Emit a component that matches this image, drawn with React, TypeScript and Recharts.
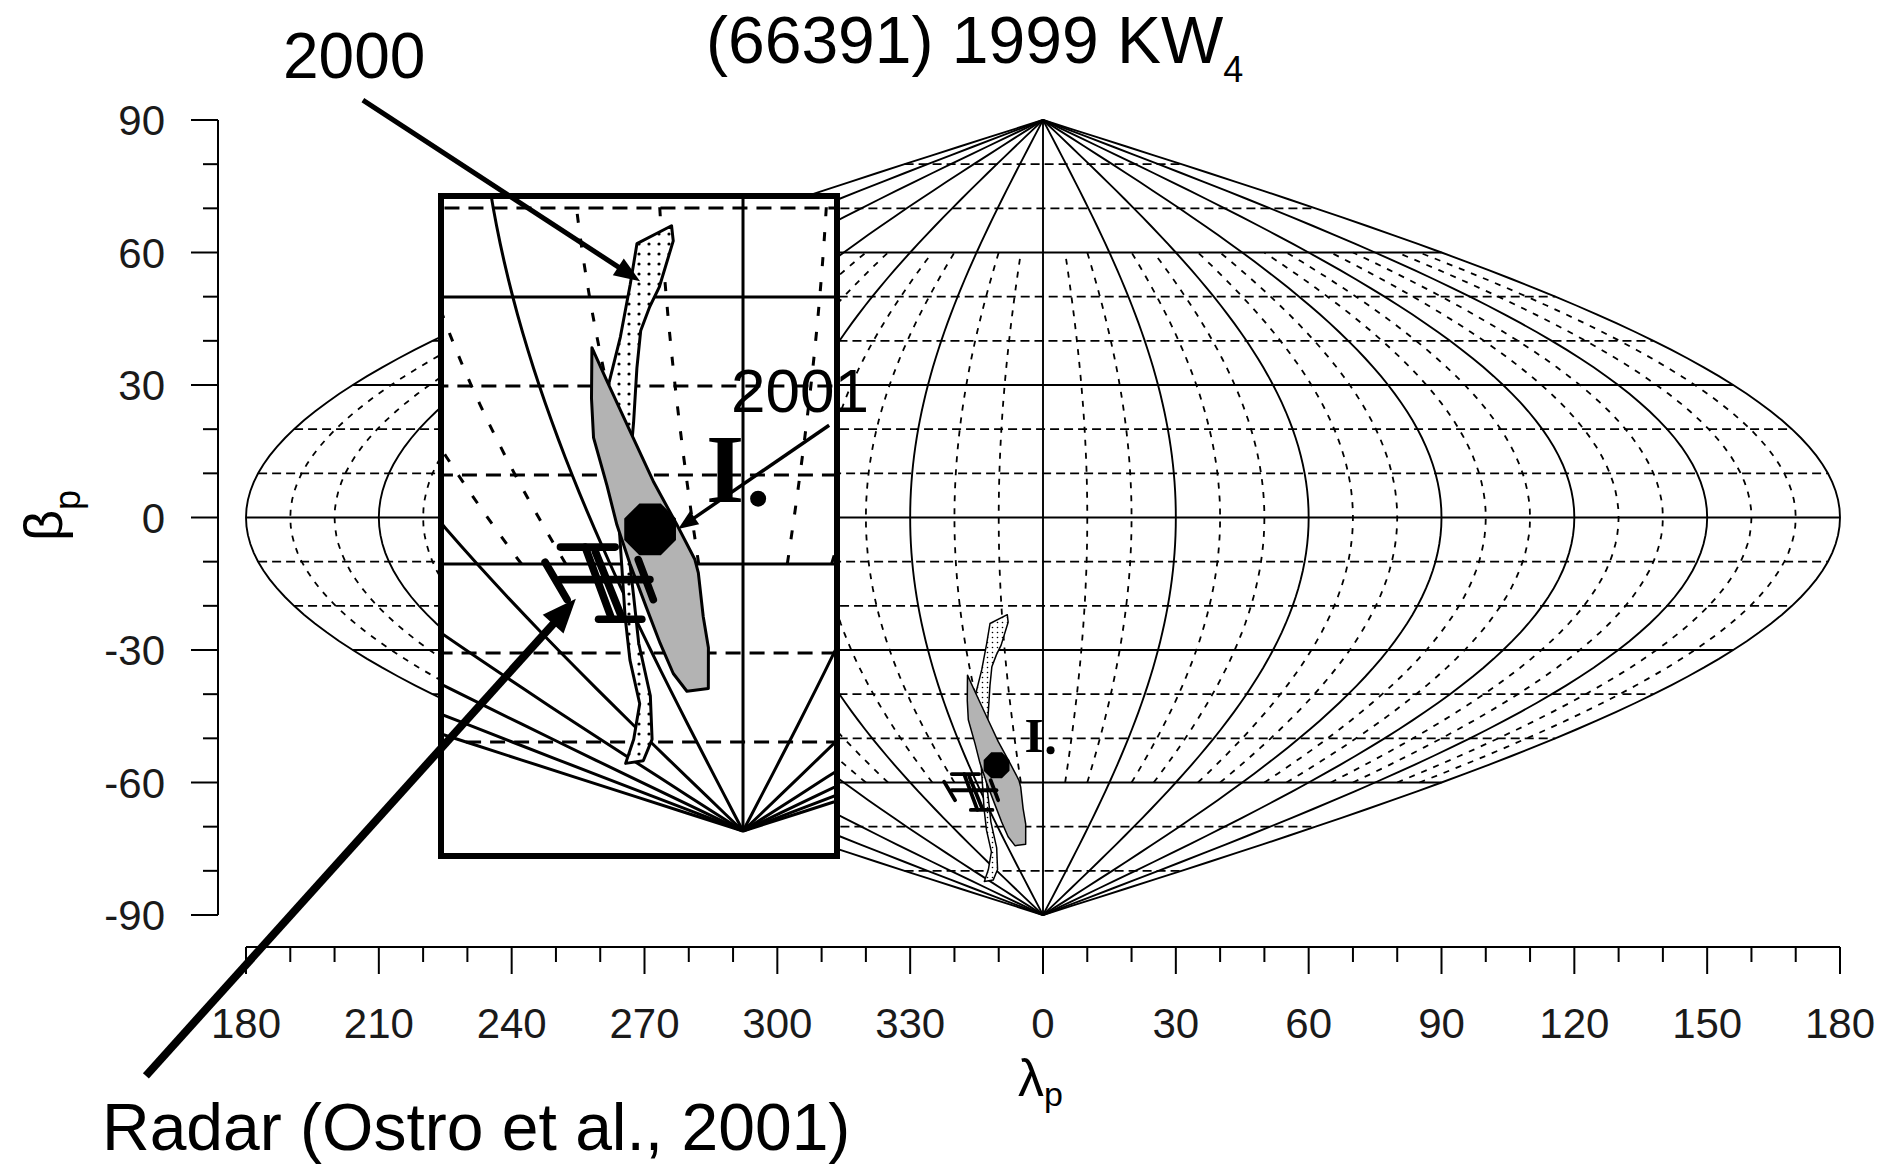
import React from 'react';
import { ScatterChart, Scatter, XAxis, YAxis } from 'recharts';

const FONT = '"Liberation Sans", Arial, Helvetica, sans-serif';
const SERIF = '"Liberation Serif", "Times New Roman", serif';

// axis ticks (degrees)
const lonTicks = [-180, -170, -160, -150, -140, -130, -120, -110, -100, -90, -80, -70, -60, -50, -40, -30, -20, -10, 0,
  10, 20, 30, 40, 50, 60, 70, 80, 90, 100, 110, 120, 130, 140, 150, 160, 170, 180];
const latTicks = [-90, -80, -70, -60, -50, -40, -30, -20, -10, 0, 10, 20, 30, 40, 50, 60, 70, 80, 90];

// graticule of the sinusoidal map
const meridianLons = lonTicks;
const parallelLats = [-80, -70, -60, -50, -40, -30, -20, -10, 0, 10, 20, 30, 40, 50, 60, 70, 80];
const minorMeridianLimit = 60; // dashed meridians stop at +-60

// 2000 solution region (dotted), pole longitude / latitude
const region2000Lon = [351.3, 351.4, 349.2, 347.7, 346.1, 344.8, 342.8, 339.3, 335.2, 332.3, 327.3, 320.1, 302.6,
  278.1, 259.8, 291.0, 312.8, 321.2, 327.4, 332.6, 337.2, 340.2, 343.2, 345.5, 346.9];
const region2000Lat = [-22.0, -23.7, -28.9, -31.1, -33.8, -38.0, -44.1, -51.2, -58.6, -63.5, -68.9, -74.8, -79.7,
  -82.1, -82.4, -79.7, -75.7, -70.8, -65.9, -60.0, -51.2, -39.9, -34.5, -28.6, -24.0];

// 2001 solution region (grey)
const region2001Lon = [339.0, 340.1, 342.2, 344.0, 346.8, 349.3, 349.6, 349.0, 348.9, 345.8, 336.6, 334.1, 334.0,
  334.3, 334.5, 334.8, 335.5, 335.8, 337.2];
const region2001Lat = [-35.7, -39.4, -45.8, -50.7, -55.6, -59.5, -61.0, -65.9, -69.4, -74.0, -74.3, -72.3, -68.9,
  -64.9, -60.0, -55.6, -51.2, -45.8, -41.4];

// radar pole (Ostro et al., 2001) error bars
const radarStartLon = [321.0, 316.4, 319.6, 326.3, 328.0, 315.6, 336.7];
const radarStartLat = [-58.1, -61.75, -66.2, -58.1, -58.6, -59.8, -59.5];
const radarEndLon = [332.7, 337.8, 331.7, 323.3, 326.4, 314.7, 336.9];
const radarEndLat = [-58.1, -61.75, -66.2, -66.2, -65.9, -64.0, -64.0];

// best 2001 pole (black octagon) and the "I." marker
const bestPoleLon = [341.2];
const bestPoleLat = [-56.1];
const markerLon = [356.9];
const markerLat = [-49.4];

// annotation arrows, in the units of the page overlay (same frame as the main map)
const arrowFromX = [-153.6, -48.3, -202.6];
const arrowFromY = [94.5, 20.9, -126.4];
const arrowToX = [-91.0, -82.4, -105.5];
const arrowToY = [53.5, -2.6, -18.4];

type P = { x: number; y: number };
const rad = (d: number) => (d * Math.PI) / 180;
const project = (lon: number, lat: number): P => {
  const l = lon > 180 ? lon - 360 : lon;
  return { x: l * Math.cos(rad(lat)), y: lat };
};
const sampleLats: number[] = [];
for (let b = -90; b <= 90; b += 2) sampleLats.push(b);

const Empty = () => <g />;
const pathOf = (pts: P[], close = false) =>
  pts.map((p, i) => `${i ? 'L' : 'M'}${p.x.toFixed(2)},${p.y.toFixed(2)}`).join('') + (close ? 'Z' : '');

function series(key: string, data: P[], draw: (pts: P[]) => React.ReactElement) {
  return (
    <Scatter key={key} data={data} isAnimationActive={false} shape={Empty as any} line={((lp: any) => draw(lp.points)) as any} />
  );
}

function gridLayers(z: number, pre: string) {
  const sw = z === 1 ? 1.9 : 3;
  const dw = z === 1 ? 1.8 : 3;
  const parDash = z === 1 ? '9 5' : '15 9';
  const merDash = z === 1 ? '6 7' : '9 16';
  const els: React.ReactElement[] = [];
  parallelLats.forEach((lat) => {
    const h = 180 * Math.cos(rad(lat));
    const solid = lat % 30 === 0;
    els.push(series(`${pre}p${lat}`, [{ x: -h, y: lat }, { x: h, y: lat }], (pts) => (
      <path d={pathOf(pts)} fill="none" stroke="#000" strokeWidth={solid ? sw : dw} strokeDasharray={solid ? undefined : parDash} />
    )));
  });
  meridianLons.forEach((lon) => {
    const solid = lon % 30 === 0;
    const lats = solid ? sampleLats : sampleLats.filter((b) => Math.abs(b) <= minorMeridianLimit);
    const data = lats.map((b) => ({ x: lon * Math.cos(rad(b)), y: b }));
    els.push(series(`${pre}m${lon}`, data, (pts) => (
      <path d={pathOf(pts)} fill="none" stroke="#000" strokeWidth={solid ? sw : dw} strokeDasharray={solid ? undefined : merDash} />
    )));
  });
  return els;
}

function solutionLayers(z: number, pre: string) {
  const els: React.ReactElement[] = [];
  const pid = `dots${pre}`;
  const d2000 = region2000Lon.map((l, i) => project(l, region2000Lat[i]));
  const d2001 = region2001Lon.map((l, i) => project(l, region2001Lat[i]));
  els.push(series(`${pre}r2000`, d2000, (pts) => (
    <g>
      <defs>
        <pattern id={pid} width={5 * z} height={5 * z} patternUnits="userSpaceOnUse">
          <rect width={5 * z} height={5 * z} fill="#fff" />
          <circle cx={2.5 * z} cy={2.5 * z} r={0.8 * z} fill="#000" />
        </pattern>
      </defs>
      <path d={pathOf(pts, true)} fill={`url(#${pid})`} stroke="#000" strokeWidth={1.5 * z} strokeLinejoin="round" />
    </g>
  )));
  els.push(series(`${pre}r2001`, d2001, (pts) => (
    <path d={pathOf(pts, true)} fill="#b3b3b3" stroke="#000" strokeWidth={1.5 * z} strokeLinejoin="round" />
  )));
  radarStartLon.forEach((l, i) => {
    const data = [project(l, radarStartLat[i]), project(radarEndLon[i], radarEndLat[i])];
    els.push(series(`${pre}rad${i}`, data, (pts) => (
      <path d={pathOf(pts)} fill="none" stroke="#000" strokeWidth={3.8 * z} strokeLinecap="round" />
    )));
  });
  const best = bestPoleLon.map((l, i) => project(l, bestPoleLat[i]));
  els.push(
    <Scatter key={`${pre}best`} data={best} isAnimationActive={false}
      shape={((sp: any) => {
        const r = 14 * z;
        const pts = [0, 1, 2, 3, 4, 5, 6, 7].map((k) => {
          const a = rad(22.5 + 45 * k);
          return `${(sp.cx + r * Math.cos(a)).toFixed(2)},${(sp.cy + r * Math.sin(a)).toFixed(2)}`;
        });
        return <polygon points={pts.join(' ')} fill="#000" />;
      }) as any}
    />
  );
  const mark = markerLon.map((l, i) => project(l, markerLat[i]));
  els.push(
    <Scatter key={`${pre}mark`} data={mark} isAnimationActive={false}
      shape={((sp: any) => (
        <g>
          <text x={sp.cx} y={sp.cy + 16 * z} textAnchor="middle" fontFamily={SERIF} fontWeight="bold" fontSize={49 * z} fill="#000">I</text>
          <circle cx={sp.cx + 16.5 * z} cy={sp.cy + 14.5 * z} r={4 * z} fill="#000" />
        </g>
      )) as any}
    />
  );
  return els;
}

const XTick = (props: any) => {
  const { x, y, payload } = props;
  const v = payload.value as number;
  const major = v % 30 === 0;
  return (
    <g>
      <line x1={x} y1={y} x2={x} y2={y + (major ? 27 : 15)} stroke="#000" strokeWidth={2} />
      {major && (
        <text x={x} y={y + 91} textAnchor="middle" fontFamily={FONT} fontSize={42} fill="#1a1a1a">
          {v < 0 ? v + 360 : v}
        </text>
      )}
    </g>
  );
};

const YTick = (props: any) => {
  const { x, y, payload } = props;
  const v = payload.value as number;
  const major = v % 30 === 0;
  return (
    <g>
      <line x1={x - (major ? 27 : 15)} y1={y} x2={x} y2={y} stroke="#000" strokeWidth={2} />
      {major && (
        <text x={x - 53} y={y + 15} textAnchor="end" fontFamily={FONT} fontSize={42} fill="#1a1a1a">
          {v}
        </text>
      )}
    </g>
  );
};

function MainMap() {
  return (
    <ScatterChart width={1897} height={1165} margin={{ top: 120, right: 57, bottom: 250, left: 98 }}>
      <XAxis type="number" dataKey="x" domain={[-180, 180]} hide />
      <YAxis type="number" dataKey="y" domain={[-90, 90]} width={28} axisLine={false} tickLine={false} tick={false} />
      <YAxis yAxisId="v" type="number" domain={[-90, 90]} allowDataOverflow ticks={latTicks} interval={0} width={120}
        tickSize={0} tickMargin={0} tickLine={false} axisLine={{ stroke: '#000', strokeWidth: 2 }} tick={<YTick />} />
      {gridLayers(1, 'a')}
      {solutionLayers(1, 'a')}
    </ScatterChart>
  );
}

// longitude axis: its own chart so that it can sit 32px below the map
function LonAxis() {
  return (
    <ScatterChart width={1897} height={1165} margin={{ top: 0, right: 57, bottom: 118, left: 246 }}>
      <XAxis type="number" dataKey="x" domain={[-180, 180]} allowDataOverflow ticks={lonTicks} interval={0} height={100}
        tickSize={0} tickMargin={0} tickLine={false} axisLine={{ stroke: '#000', strokeWidth: 2 }}
        tick={(p: any) => <XTick {...p} />} />
      <YAxis type="number" dataKey="y" domain={[0, 1]} allowDataOverflow hide />
      <Scatter data={[{ x: 0, y: 0 }]} isAnimationActive={false} shape={Empty as any} />
    </ScatterChart>
  );
}

function InsetMap() {
  return (
    <ScatterChart width={390} height={654} margin={{ top: 0, right: 0, bottom: 0, left: 0 }}>
      <XAxis type="number" dataKey="x" domain={[-33.75, 10.27]} allowDataOverflow hide />
      <YAxis type="number" dataKey="y" domain={[-92.47, -18.99]} allowDataOverflow hide />
      {gridLayers(2, 'b')}
      {solutionLayers(2, 'b')}
    </ScatterChart>
  );
}

function Arrows() {
  const widths = [5, 3.5, 8];
  const heads = [26, 20, 34];
  const halves = [10, 8, 14];
  return (
    <ScatterChart width={1897} height={1165} margin={{ top: 0, right: 0, bottom: 0, left: 0 }}>
      <XAxis type="number" dataKey="x" domain={[-235.55, 192.86]} allowDataOverflow hide />
      <YAxis type="number" dataKey="y" domain={[-146.59, 117.16]} allowDataOverflow hide />
      {arrowFromX.map((fx, i) =>
        series(`arr${i}`, [{ x: fx, y: arrowFromY[i] }, { x: arrowToX[i], y: arrowToY[i] }], (pts) => {
          const [a, b] = pts;
          const dx = b.x - a.x;
          const dy = b.y - a.y;
          const L = Math.hypot(dx, dy);
          const ux = dx / L;
          const uy = dy / L;
          const bx = b.x - ux * heads[i];
          const by = b.y - uy * heads[i];
          const h = halves[i];
          return (
            <g>
              <line x1={a.x} y1={a.y} x2={bx + ux * 3} y2={by + uy * 3} stroke="#000" strokeWidth={widths[i]} />
              <polygon points={`${b.x},${b.y} ${bx - uy * h},${by + ux * h} ${bx + uy * h},${by - ux * h}`} fill="#000" />
            </g>
          );
        })
      )}
    </ScatterChart>
  );
}

export default function App() {
  return (
    <div style={{ position: 'absolute', left: 0, top: 0, width: 1897, height: 1165, background: '#fff', overflow: 'hidden' }}>
      <div style={{ position: 'absolute', left: 0, top: 0 }}>
        <MainMap />
      </div>
      <div style={{ position: 'absolute', left: 0, top: 0 }}>
        <LonAxis />
      </div>
      <div style={{ position: 'absolute', left: 438, top: 193, width: 390, height: 654, border: '6px solid #000', background: '#fff' }}>
        <InsetMap />
      </div>
      <div style={{ position: 'absolute', left: 0, top: 0 }}>
        <Arrows />
      </div>
      <svg width={1897} height={1165} style={{ position: 'absolute', left: 0, top: 0, pointerEvents: 'none' }}>
        <text x={706} y={63} fontFamily={FONT} fontSize={66} fill="#000">
          (66391) 1999 KW<tspan fontSize={36} dy={19}>4</tspan>
        </text>
        <text x={283} y={78} fontFamily={FONT} fontSize={64} fill="#000">2000</text>
        <text x={731} y={412} fontFamily={FONT} fontSize={62} fill="#000">2001</text>
        <text x={102} y={1150} fontFamily={FONT} fontSize={66} fill="#000">Radar (Ostro et al., 2001)</text>
        <text transform="translate(62,541) rotate(-90)" fontFamily={FONT} fontSize={54} fill="#000">
          β<tspan fontSize={36} dy={18}>p</tspan>
        </text>
        <text x={1018} y={1096} fontFamily={FONT} fontSize={52} fill="#000">
          λ<tspan fontSize={34} dy={10}>p</tspan>
        </text>
      </svg>
    </div>
  );
}
